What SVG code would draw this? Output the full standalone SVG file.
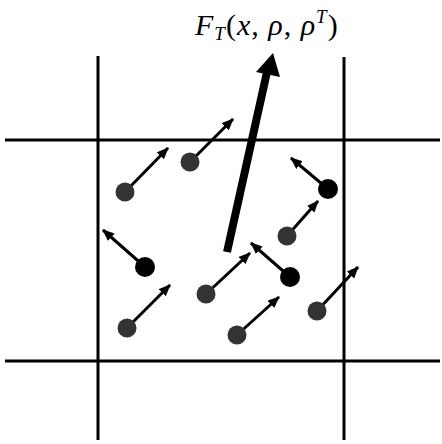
<svg xmlns="http://www.w3.org/2000/svg" width="442" height="444" viewBox="0 0 442 444">
<style>
.grid{stroke:#000;stroke-width:3;fill:none}
.v{stroke:#000;stroke-width:3;fill:none;marker-end:url(#ah)}
.g{fill:#333}
.b{fill:#000}
.lbl{font-family:"Liberation Serif",serif;font-size:30px;fill:#000;letter-spacing:1px}
</style>
<defs>
<marker id="ah" markerUnits="userSpaceOnUse" markerWidth="14" markerHeight="12" refX="11" refY="5" orient="auto">
<path d="M0,0 L12,5 L0,10 Z" fill="#000"/>
</marker>
</defs>
<g id="grid">
<line class="grid" x1="98" y1="56" x2="98" y2="440"/>
<line class="grid" x1="344" y1="57" x2="344" y2="440"/>
<line class="grid" x1="5" y1="140" x2="440" y2="140"/>
<line class="grid" x1="5" y1="361" x2="440" y2="361"/>
</g>
<g id="connectors">
<line class="v" x1="125" y1="192" x2="168" y2="148"/>
<line class="v" x1="190" y1="162" x2="233" y2="119"/>
<line class="v" x1="145" y1="267" x2="103" y2="230"/>
<line class="v" x1="328" y1="189" x2="291" y2="158"/>
<line class="v" x1="287" y1="236" x2="318" y2="201"/>
<line class="v" x1="290" y1="277" x2="251" y2="243"/>
<line class="v" x1="206" y1="294" x2="250" y2="253"/>
<line class="v" x1="127" y1="328" x2="170" y2="285"/>
<line class="v" x1="237" y1="335" x2="279" y2="297"/>
<line class="v" x1="317" y1="311" x2="358" y2="267"/>
</g>
<g id="force">
<line x1="227" y1="252" x2="267" y2="72" stroke="#000" stroke-width="8"/>
<polygon points="273,53 256,72 280,77" fill="#000"/>
</g>
<g id="particles">
<circle id="p1" class="g" cx="125" cy="192" r="9.5"/>
<circle id="p2" class="g" cx="190" cy="162" r="9.5"/>
<circle id="p3" class="b" cx="145" cy="267" r="10"/>
<circle id="p4" class="b" cx="328" cy="189" r="10"/>
<circle id="p5" class="g" cx="287" cy="236" r="9.5"/>
<circle id="p6" class="b" cx="290" cy="277" r="10"/>
<circle id="p7" class="g" cx="206" cy="294" r="9.5"/>
<circle id="p8" class="g" cx="127" cy="328" r="9.5"/>
<circle id="p9" class="g" cx="237" cy="335" r="9.5"/>
<circle id="p10" class="g" cx="317" cy="311" r="9.5"/>
</g>
<g id="label">
<text class="lbl" x="195" y="35"><tspan font-style="italic">F</tspan><tspan font-style="italic" font-size="19" dy="5">T</tspan><tspan dy="-5">(</tspan><tspan font-style="italic">x</tspan>, <tspan font-style="italic">ρ</tspan>, <tspan font-style="italic">ρ</tspan><tspan font-style="italic" font-size="19" dy="-12">T</tspan><tspan dy="12">)</tspan></text>
</g>
</svg>
